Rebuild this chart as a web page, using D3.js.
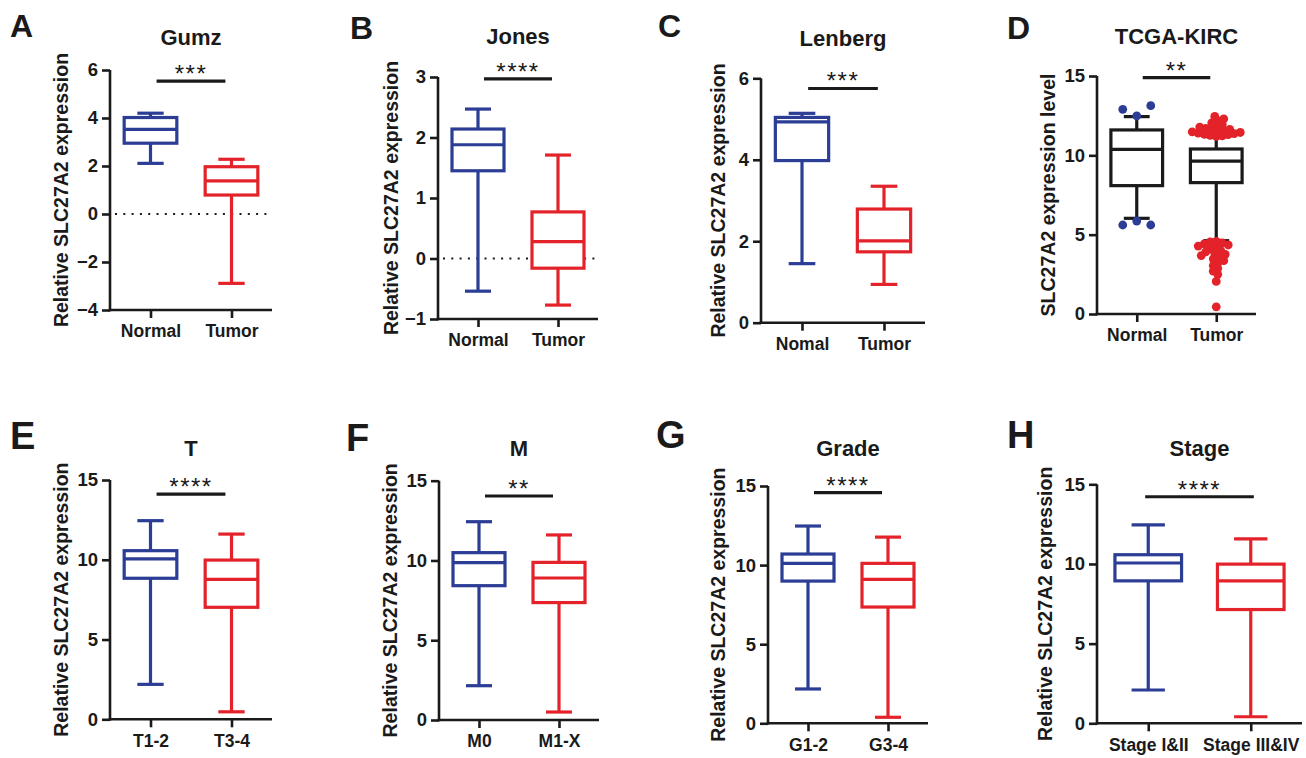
<!DOCTYPE html>
<html><head><meta charset="utf-8">
<script src="https://cdn.jsdelivr.net/npm/d3@7"></script>
<style>
body{margin:0;background:#fff}
text{font-family:"Liberation Sans",Arial,sans-serif;font-weight:bold;fill:#1a1a1a}
</style>
</head><body>
<svg id="chart" width="1306" height="758"></svg>
<script>
// ---------------- DATA ----------------
const panelLetters = ["A","B","C","D","E","F","G","H"];
const panelTitles  = ["Gumz","Jones","Lenberg","TCGA-KIRC","T","M","Grade","Stage"];
const yLabels = [
  "Relative SLC27A2 expression","Relative SLC27A2 expression","Relative SLC27A2 expression",
  "SLC27A2 expression level",
  "Relative SLC27A2 expression","Relative SLC27A2 expression","Relative SLC27A2 expression","Relative SLC27A2 expression"
];
const groupNames = [
  ["Normal","Tumor"],["Normal","Tumor"],["Nomal","Tumor"],["Normal","Tumor"],
  ["T1-2","T3-4"],["M0","M1-X"],["G1-2","G3-4"],["Stage I&II","Stage III&IV"]
];
const yDomains = [[-4,6],[-1,3],[0,6],[0,15],[0,15],[0,15],[0,15],[0,15]];
const yTickValues = [
  [-4,-2,0,2,4,6],[-1,0,1,2,3],[0,2,4,6],[0,5,10,15],
  [0,5,10,15],[0,5,10,15],[0,5,10,15],[0,5,10,15]
];
// five-number summaries [whiskerLow, Q1, median, Q3, whiskerHigh]
const group1Stats = [
  [2.11,2.95,3.53,4.02,4.20],
  [-0.54,1.45,1.88,2.14,2.47],
  [1.45,3.98,4.93,5.04,5.14],
  [6.03,8.09,10.38,11.60,12.44],
  [2.19,8.84,10.05,10.57,12.45],
  [2.15,8.42,9.86,10.49,12.43],
  [2.17,8.99,10.11,10.70,12.47],
  [2.09,8.94,10.06,10.58,12.45]
];
const group2Stats = [
  [-2.89,0.79,1.38,1.97,2.28],
  [-0.77,-0.16,0.28,0.77,1.71],
  [0.94,1.74,2.01,2.79,3.35],
  [4.62,8.28,9.64,10.40,11.18],
  [0.47,7.02,8.77,9.98,11.61],
  [0.50,7.36,8.90,9.88,11.60],
  [0.38,7.35,9.10,10.11,11.77],
  [0.41,7.14,8.94,9.99,11.57]
];
const sigLabels = ["***","****","***","**","****","**","****","****"];
const sigBarValues = [5.54,2.97,5.75,14.9,14.12,14.04,14.58,14.22];
const referenceLines = [0,0,null,null,null,null,null,null];
// TCGA-KIRC outliers
const dNormalOutliersHigh = [12.48,12.90,13.13];
const dNormalOutliersLow  = [5.86,5.61,5.61];
const dTumorOutliersHigh = [11.20,11.23,11.26,11.30,11.33,11.37,11.40,11.44,11.48,11.52,
  11.56,11.60,11.64,11.70,11.78,11.86,11.95,12.05,12.18,12.30,12.45];
const dTumorOutliersLow = [4.58,4.54,4.48,4.42,4.35,4.28,4.20,4.10,4.00,3.92,3.84,3.76,
  3.68,3.58,3.48,3.36,3.22,3.05,2.88,2.70,2.50,2.05,0.45];

// ---------------- LAYOUT ----------------
const BLUE = "#2b3d95", RED = "#e3222a", BLACK = "#1a1a1a";
const layout = [
  {ax:110, ae:272, yt:70,    yb:310,   titleY:45,  letterX:10,   letterY:37,  lsize:32, labOff:42, span:0.85},
  {ax:438, ae:598, yt:77,    yb:319,   titleY:44,  letterX:350,  letterY:39,  lsize:32, labOff:40, span:0.85},
  {ax:761, ae:925, yt:78.3,  yb:322.7, titleY:46,  letterX:658,  letterY:37,  lsize:32, labOff:36, span:0.85},
  {ax:1097,ae:1256,yt:76,    yb:314,   titleY:44,  letterX:1007, letterY:39,  lsize:32, labOff:42, span:0.85},
  {ax:110, ae:272, yt:480,   yb:719.3, titleY:456, letterX:10,   letterY:449, lsize:38, labOff:42, span:0.85},
  {ax:439, ae:599, yt:480.7, yb:720,   titleY:456, letterX:346,  letterY:451, lsize:38, labOff:42, span:0.85},
  {ax:768, ae:928, yt:486,   yb:723.3, titleY:456, letterX:656,  letterY:448, lsize:38, labOff:43, span:0.85},
  {ax:1097,ae:1302,yt:484.3, yb:723.3, titleY:456, letterX:1007, letterY:448, lsize:38, labOff:45, span:1.06}
];

const svg = d3.select("#chart");

function swarm(values, cx, y, minD, step, firstSign) {
  const placed = [];
  values.forEach(v => {
    const py = y(v);
    for (let k = 0; k < 400; k++) {
      const off = k === 0 ? 0 : (k % 2 ? firstSign : -firstSign) * Math.ceil(k / 2) * step;
      const px = cx + off;
      if (placed.every(p => Math.hypot(p.x - px, p.y - py) >= minD)) { placed.push({x:px, y:py, v}); break; }
    }
  });
  return placed;
}

panelTitles.forEach((title, i) => {
  const L = layout[i];
  const g = svg.append("g");
  const y = d3.scaleLinear().domain(yDomains[i]).range([L.yb, L.yt]);
  const x = d3.scalePoint().domain(groupNames[i]).range([L.ax, L.ae]).padding(0.5);
  const step = x.step();
  const boxW = step * 0.65;
  const isD = i === 3;
  const colors = isD ? [BLACK, BLACK] : [BLUE, RED];

  // panel letter
  g.append("text").attr("x", L.letterX).attr("y", L.letterY)
    .attr("font-size", L.lsize).style("font-weight", "900").text(panelLetters[i]);
  // title
  g.append("text").attr("x", (L.ax + L.ae) / 2).attr("y", L.titleY)
    .attr("text-anchor", "middle").attr("font-size", 22).text(title);
  // y label
  g.append("text")
    .attr("transform", `translate(${L.ax - L.labOff},${(L.yt + L.yb) / 2}) rotate(-90)`)
    .attr("text-anchor", "middle").attr("font-size", 19.5).text(yLabels[i]);

  // reference dotted line
  if (referenceLines[i] !== null) {
    g.append("line").attr("x1", L.ax + 5).attr("x2", L.ae - 2)
      .attr("y1", y(referenceLines[i])).attr("y2", y(referenceLines[i]))
      .attr("stroke", BLACK).attr("stroke-width", 2).attr("stroke-dasharray", "2,6.3");
  }

  // axes
  const yAxis = d3.axisLeft(y).tickValues(yTickValues[i]).tickFormat(d3.format("d"))
    .tickSize(8).tickPadding(4).tickSizeOuter(0);
  const ya = g.append("g").attr("transform", `translate(${L.ax},0)`).call(yAxis);
  const xAxis = d3.axisBottom(x).tickSize(8).tickPadding(7).tickSizeOuter(0);
  const xa = g.append("g").attr("transform", `translate(0,${L.yb})`).call(xAxis);
  [ya, xa].forEach(a => {
    a.select(".domain").attr("stroke", BLACK).attr("stroke-width", 2.6);
    a.selectAll(".tick line").attr("stroke", BLACK).attr("stroke-width", 2.6);
    a.selectAll(".tick text").attr("fill", BLACK).style("font-family", "'Liberation Sans',Arial,sans-serif").style("font-weight", "bold");
  });
  ya.selectAll(".tick text").attr("font-size", 18.5);
  xa.selectAll(".tick text").attr("font-size", 17.5);
  ya.select(".domain").attr("d", `M0,${L.yt}V${L.yb + 1.3}`);
  xa.select(".domain").attr("d", `M${L.ax - 1.3},0H${L.ae}`);

  // boxes
  [group1Stats[i], group2Stats[i]].forEach((s, j) => {
    const cx = x(groupNames[i][j]);
    const c = colors[j];
    const bg = g.append("g").attr("stroke", c).attr("stroke-width", 3.2).attr("fill", "none");
    bg.append("line").attr("x1", cx).attr("x2", cx).attr("y1", y(s[4])).attr("y2", y(s[3]));
    bg.append("line").attr("x1", cx).attr("x2", cx).attr("y1", y(s[1])).attr("y2", y(s[0]));
    bg.append("line").attr("x1", cx - boxW / 4).attr("x2", cx + boxW / 4).attr("y1", y(s[4])).attr("y2", y(s[4]));
    bg.append("line").attr("x1", cx - boxW / 4).attr("x2", cx + boxW / 4).attr("y1", y(s[0])).attr("y2", y(s[0]));
    bg.append("rect").attr("x", cx - boxW / 2).attr("width", boxW)
      .attr("y", y(s[3])).attr("height", y(s[1]) - y(s[3])).attr("fill", "#fff");
    bg.append("line").attr("x1", cx - boxW / 2).attr("x2", cx + boxW / 2).attr("y1", y(s[2])).attr("y2", y(s[2]));
  });

  // outliers (TCGA-KIRC)
  if (isD) {
    const n = x(groupNames[i][0]), t = x(groupNames[i][1]);
    const pts = [];
    swarm(dNormalOutliersHigh, n, y, 10.5, 14, -1).forEach(p => pts.push({...p, c: BLUE}));
    swarm(dNormalOutliersLow, n, y, 10.5, 14, -1).forEach(p => pts.push({...p, c: BLUE}));
    swarm(dTumorOutliersHigh, t, y, 5.2, 1.5, 1).forEach(p => pts.push({...p, c: RED}));
    swarm(dTumorOutliersLow, t, y, 5.2, 1.5, -1).forEach(p => pts.push({...p, c: RED}));
    g.selectAll("circle.o").data(pts).join("circle").attr("class", "o")
      .attr("cx", d => d.x).attr("cy", d => d.y).attr("r", 4.4).attr("fill", d => d.c);
  }

  // significance
  const mid = (x(groupNames[i][0]) + x(groupNames[i][1])) / 2;
  const half = step * L.span / 2;
  const by = y(sigBarValues[i]);
  g.append("line").attr("x1", mid - half).attr("x2", mid + half).attr("y1", by).attr("y2", by)
    .attr("stroke", BLACK).attr("stroke-width", 3.2);
  g.append("text").attr("x", mid).attr("y", by + 1).attr("text-anchor", "middle")
    .attr("font-size", 24).attr("letter-spacing", 1.5).style("font-weight", "normal").text(sigLabels[i]);
});
</script>
</body></html>
